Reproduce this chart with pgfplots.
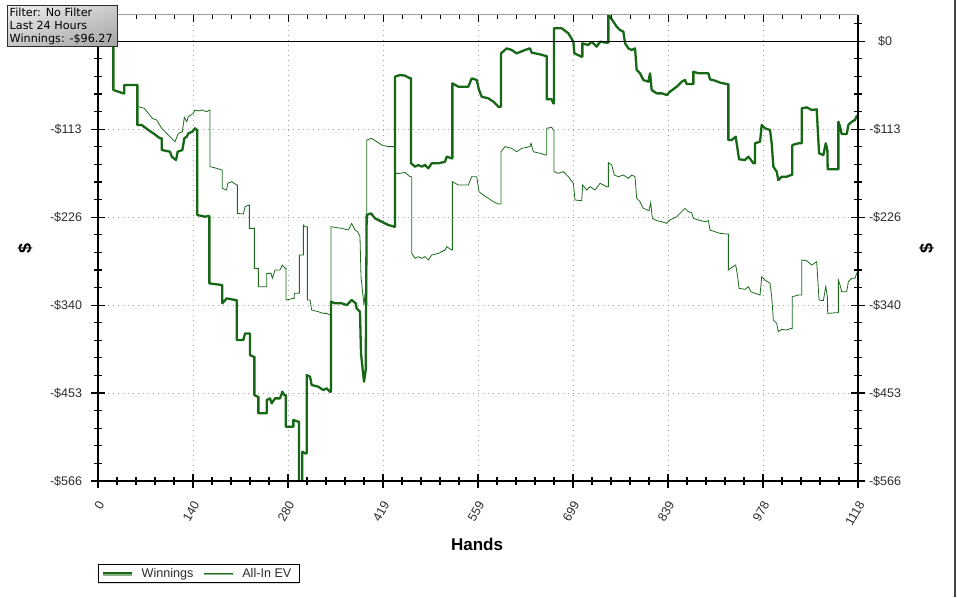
\documentclass[border=0pt]{standalone}
\usepackage{pgfplots}
\pgfplotsset{compat=1.18}
\usetikzlibrary{shadings,shadows}
\usepackage{fontspec}
\setmainfont{Liberation Sans}
\newfontfamily\verdana{DejaVu Sans}
\definecolor{wincol}{RGB}{22,104,22}
\definecolor{evcol}{RGB}{28,108,28}
\definecolor{lblgray}{RGB}{45,45,45}

\pgfplotstableread[row sep=\\]{
x y\\
0 0\\ 22.6 0\\ 22.6 -62.7\\ 37.3 -67.0\\ 38.7 -67.0\\ 38.7 -56.2\\ 57.9 -56.2\\ 57.9 -107.7\\
64.2 -107.7\\ 74.1 -114.2\\ 81.4 -118.5\\ 91.2 -124.9\\ 93.7 -124.9\\ 93.7 -139.9\\ 106.0 -142.1\\
108.4 -148.5\\ 114.8 -152.8\\ 117.2 -142.1\\ 124.1 -139.9\\ 127.0 -124.9\\ 130.5 -122.8\\ 132.9 -118.5\\
138.8 -116.3\\ 142.7 -112.0\\ 145.2 -114.2\\ 146.1 -114.2\\ 146.1 -223.6\\ 157.4 -225.8\\ 162.3 -224.9\\
163.8 -224.9\\ 163.8 -311.6\\ 181.9 -313.7\\ 182.9 -313.7\\ 182.9 -337.3\\ 189.3 -330.9\\ 201.6 -333.0\\
204.0 -333.0\\ 204.0 -384.5\\ 213.8 -384.5\\ 216.3 -376.0\\ 222.2 -376.0\\ 223.6 -376.0\\ 223.6 -403.8\\
228.5 -406.0\\ 230.0 -406.0\\ 230.0 -455.3\\ 234.9 -457.5\\ 235.9 -457.5\\ 235.9 -478.9\\ 245.7 -478.9\\
248.1 -478.9\\ 248.1 -461.8\\ 253.0 -459.6\\ 255.5 -466.0\\ 260.4 -459.6\\ 267.8 -459.6\\ 271.2 -451.0\\
274.1 -455.3\\ 276.1 -455.3\\ 276.1 -496.1\\ 287.4 -496.1\\ 287.4 -487.5\\ 294.7 -489.6\\ 295.7 -489.6\\
295.7 -575\\ 300.6 -575\\ 300.6 -528.3\\ 304.5 -530.4\\ 307.0 -530.4\\ 307.0 -429.6\\ 311.9 -431.7\\
314.3 -442.4\\ 324.1 -444.6\\ 331.5 -448.9\\ 336.4 -446.7\\ 341.3 -451.0\\ 342.8 -451.0\\ 342.8 -335.2\\
348.7 -337.3\\ 358.5 -337.3\\ 365.8 -339.5\\ 373.2 -333.0\\ 379.1 -337.3\\ 380.5 -343.8\\ 385.4 -348.1\\
386.9 -401.7\\ 389.4 -423.1\\ 391.3 -438.2\\ 393.8 -423.1\\ 395.2 -223.6\\ 401.6 -221.5\\ 407.5 -227.9\\
417.3 -232.2\\ 427.1 -236.5\\ 435.9 -238.6\\ 436.9 -238.6\\ 436.9 -45.5\\ 444.3 -43.4\\ 451.6 -44.2\\
459.0 -47.7\\ 460.5 -47.7\\ 460.5 -157.1\\ 466.4 -161.4\\ 471.3 -159.2\\ 476.2 -161.4\\ 481.1 -159.2\\
486.0 -163.5\\ 490.9 -157.1\\ 500.7 -157.1\\ 510.5 -155.0\\ 513.0 -148.5\\ 520.3 -150.7\\ 521.3 -150.7\\
521.3 -54.1\\ 530.1 -58.4\\ 544.8 -58.4\\ 549.7 -47.7\\ 557.1 -49.8\\ 560.5 -62.7\\ 564.4 -71.3\\
574.2 -73.4\\ 581.6 -77.7\\ 588.9 -84.2\\ 592.9 -84.2\\ 592.9 -15.5\\ 601.2 -9.1\\ 608.5 -11.2\\
615.9 -15.5\\ 628.2 -11.2\\ 635.5 -9.1\\ 638.0 -14.6\\ 650.2 -16.8\\ 658.6 -18.9\\ 660.0 -18.9\\
660.0 -74.7\\ 667.4 -74.7\\ 669.8 -79.9\\ 670.8 -79.9\\ 670.8 16.7\\ 682.1 16.7\\ 691.9 10.3\\
699.3 -0.5\\ 700.7 -15.5\\ 711.5 -19.8\\ 712.5 -19.8\\ 712.5 -2.6\\ 721.3 -4.8\\ 726.2 -0.5\\
733.6 -6.9\\ 738.5 -0.5\\ 748.3 -1.8\\ 750.8 -1.8\\ 750.8 33.9\\ 753.2 31.7\\ 758.1 25.3\\ 763.0 18.8\\
767.9 14.5\\ 772.8 12.4\\ 775.3 -2.6\\ 780.2 -9.1\\ 785.1 -11.2\\ 790.0 -9.1\\ 792.4 -36.9\\
797.3 -41.2\\ 802.2 -49.8\\ 809.6 -52.0\\ 812.1 -41.2\\ 814.5 -62.7\\ 821.9 -67.0\\ 829.2 -67.0\\
836.6 -69.1\\ 841.5 -64.8\\ 851.3 -58.4\\ 858.6 -52.0\\ 863.5 -49.8\\ 866.0 -55.0\\ 873.3 -55.0\\
875.8 -55.0\\ 875.8 -39.1\\ 883.1 -41.2\\ 897.9 -41.2\\ 900.3 -49.0\\ 907.7 -50.7\\ 915.0 -53.2\\
924.8 -55.0\\ 927.3 -55.0\\ 927.3 -127.1\\ 932.2 -127.1\\ 938.1 -122.8\\ 941.0 -139.9\\ 943.0 -151.9\\
951.8 -152.8\\ 956.7 -148.5\\ 960.6 -152.8\\ 964.1 -157.1\\ 966.5 -157.1\\ 966.5 -131.3\\ 973.9 -129.2\\
976.3 -107.7\\ 981.2 -112.0\\ 988.6 -114.2\\ 991.0 -131.3\\ 993.5 -161.4\\ 998.4 -167.8\\ 1000.8 -178.6\\
1005.7 -174.3\\ 1013.1 -174.3\\ 1019.5 -172.1\\ 1021.4 -172.1\\ 1021.4 -133.5\\ 1030.3 -131.3\\
1035.2 -131.3\\ 1035.2 -86.3\\ 1042.5 -85.0\\ 1049.9 -88.4\\ 1057.2 -87.6\\ 1060.7 -144.2\\ 1067.0 -146.4\\
1070.5 -131.3\\ 1072.9 -139.9\\ 1073.4 -164.8\\ 1086.7 -164.8\\ 1089.1 -164.8\\ 1089.1 -103.5\\
1091.6 -109.9\\ 1094.0 -119.3\\ 1101.4 -119.3\\ 1103.8 -107.7\\ 1108.7 -103.5\\ 1113.6 -101.3\\
1116.1 -96.2\\ 1118 -96.27\\
}\winnings

\pgfplotstableread[row sep=\\]{
x y\\
0 0\\ 22.6 0\\ 22.6 -62.7\\ 37.3 -67.0\\ 38.7 -67.0\\ 38.7 -56.2\\ 57.9 -56.2\\ 57.9 -84.2\\
59.3 -84.2\\ 68.2 -86.3\\ 74.1 -92.7\\ 80.0 -99.2\\ 86.3 -101.3\\ 93.7 -112.0\\ 101.0 -118.5\\
108.4 -124.9\\ 113.3 -129.2\\ 118.2 -118.5\\ 124.1 -116.3\\ 127.0 -97.9\\ 130.5 -103.5\\ 132.9 -97.0\\
140.3 -92.7\\ 142.7 -88.4\\ 147.6 -89.7\\ 152.5 -88.4\\ 159.9 -90.6\\ 164.8 -88.4\\ 164.8 -161.4\\
174.6 -163.5\\ 181.9 -165.7\\ 182.9 -165.7\\ 182.9 -189.3\\ 189.3 -191.4\\ 190.8 -182.8\\ 196.7 -180.7\\
204.0 -185.0\\ 205.0 -185.0\\ 205.0 -221.5\\ 213.8 -222.3\\ 216.3 -212.9\\ 222.2 -210.7\\ 222.7 -210.7\\
222.7 -240.8\\ 230.0 -240.8\\ 230.0 -292.3\\ 235.9 -292.3\\ 235.9 -315.9\\ 248.1 -315.9\\ 248.1 -298.7\\
254.5 -298.7\\ 256.5 -305.1\\ 260.4 -294.4\\ 267.8 -294.4\\ 271.2 -288.0\\ 275.1 -292.3\\ 276.6 -292.3\\
276.6 -333.0\\ 287.4 -330.9\\ 288.8 -330.9\\ 288.8 -324.4\\ 294.7 -324.4\\ 296.2 -324.4\\ 296.2 -275.1\\
299.6 -275.1\\ 302.1 -275.1\\ 302.1 -236.5\\ 304.5 -238.6\\ 308.0 -238.6\\ 308.0 -333.0\\ 311.9 -333.0\\
314.3 -345.9\\ 324.1 -348.1\\ 331.5 -350.2\\ 336.4 -350.2\\ 341.3 -352.3\\ 342.8 -352.3\\ 342.8 -238.6\\
348.7 -239.5\\ 358.5 -240.8\\ 368.3 -242.9\\ 373.2 -234.3\\ 378.1 -242.9\\ 382.0 -245.1\\ 385.4 -251.5\\
386.9 -303.0\\ 389.4 -324.4\\ 391.3 -339.5\\ 392.8 -324.4\\ 395.2 -324.4\\ 395.2 -127.1\\ 402.6 -124.9\\
410.0 -129.2\\ 417.3 -133.5\\ 427.1 -135.6\\ 434.5 -135.6\\ 436.9 -135.6\\ 436.9 -170.0\\ 444.3 -170.0\\
451.6 -168.7\\ 459.0 -174.3\\ 461.5 -174.3\\ 461.5 -273.0\\ 466.4 -279.4\\ 471.3 -277.2\\ 476.2 -279.4\\
481.1 -277.2\\ 486.0 -281.5\\ 490.9 -275.1\\ 500.7 -273.0\\ 510.5 -268.7\\ 513.0 -264.4\\ 520.3 -268.7\\
521.3 -268.7\\ 521.3 -180.7\\ 530.1 -185.0\\ 544.8 -185.0\\ 549.7 -174.3\\ 557.1 -174.3\\ 560.5 -193.6\\
566.9 -197.9\\ 574.2 -202.1\\ 581.6 -206.4\\ 588.9 -209.4\\ 592.9 -209.4\\ 592.9 -142.1\\ 598.7 -135.6\\
608.5 -137.8\\ 615.9 -142.1\\ 623.3 -137.8\\ 635.5 -135.6\\ 637.0 -131.3\\ 640.4 -142.1\\ 650.2 -144.2\\
658.6 -146.4\\ 660.0 -146.4\\ 660.0 -112.0\\ 667.4 -110.7\\ 669.8 -114.2\\ 670.8 -114.2\\ 670.8 -167.8\\
677.2 -170.0\\ 684.6 -167.8\\ 691.9 -174.3\\ 699.3 -182.8\\ 701.7 -204.3\\ 711.5 -205.2\\ 713.0 -185.0\\
718.9 -191.4\\ 723.8 -187.1\\ 731.1 -191.4\\ 738.5 -182.8\\ 748.3 -187.1\\ 750.8 -187.1\\ 750.8 -156.2\\
755.7 -159.2\\ 759.6 -172.1\\ 765.5 -174.3\\ 772.8 -172.1\\ 780.2 -176.4\\ 785.1 -172.1\\ 790.0 -174.3\\
792.4 -202.1\\ 797.3 -206.4\\ 802.2 -215.0\\ 810.6 -218.0\\ 813.0 -207.7\\ 815.5 -227.9\\ 821.9 -230.9\\
829.2 -232.2\\ 836.6 -234.3\\ 841.5 -230.0\\ 851.3 -225.8\\ 858.6 -219.3\\ 863.5 -215.0\\ 868.4 -219.3\\
873.3 -220.6\\ 875.8 -227.9\\ 883.1 -230.0\\ 893.0 -232.2\\ 897.9 -230.9\\ 900.3 -242.9\\ 907.7 -245.1\\
915.0 -247.2\\ 924.8 -248.1\\ 927.3 -248.1\\ 927.3 -294.4\\ 932.2 -291.0\\ 938.1 -288.0\\ 941.0 -303.0\\
943.0 -318.0\\ 951.8 -319.3\\ 956.7 -315.9\\ 960.6 -322.3\\ 966.5 -324.4\\ 973.9 -326.6\\ 976.3 -303.0\\
981.2 -307.3\\ 988.6 -311.6\\ 991.0 -328.7\\ 993.5 -358.8\\ 998.4 -363.1\\ 1000.8 -373.8\\ 1005.7 -370.8\\
1013.1 -371.7\\ 1019.5 -369.5\\ 1021.4 -369.5\\ 1021.4 -328.7\\ 1030.3 -326.6\\ 1035.2 -326.6\\
1035.2 -281.5\\ 1042.5 -282.4\\ 1049.9 -288.0\\ 1057.2 -283.7\\ 1060.7 -333.0\\ 1067.0 -333.9\\
1070.5 -315.9\\ 1072.9 -328.7\\ 1073.4 -350.2\\ 1086.7 -349.3\\ 1089.1 -349.3\\ 1089.1 -307.3\\
1091.6 -313.7\\ 1094.0 -322.3\\ 1101.4 -322.3\\ 1103.8 -309.4\\ 1108.7 -305.1\\ 1113.6 -305.1\\
1116.1 -298.7\\ 1118 -296.0\\
}\alliniev

\begin{document}
\begin{tikzpicture}[x=1pt,y=1pt]
\useasboundingbox (0,0) rectangle (957,-597);
\fill[white] (0,0) rectangle (957,-597);
\pgfplotsset{
  base/.style={
    at={(98pt,-481pt)}, anchor=south west,
    scale only axis, width=760pt, height=466pt,
    xmin=0, xmax=1118, ymin=-566, ymax=33.86,
    axis line style={draw=none},
    tick style={black, line width=1.2pt},
    major tick length=14pt, minor tick length=8pt,
    tick align=center,
    xtick={0,139.75,279.5,419.25,559,698.75,838.5,978.25,1118},
    ytick={-566,-452.8,-339.6,-226.4,-113.2,0},
    minor xtick={27.95,55.9,...,1100},
    minor ytick={-543.36,-520.72,...,23},
    ticklabel style={font=\fontsize{12.5}{14}\selectfont, text=lblgray},
  }
}
\begin{axis}[base,
  clip mode=individual,
  xtick pos=left, ytick pos=left,
  xticklabels={0,140,280,419,559,699,839,978,1118},
  yticklabels={-\$566,-\$453,-\$340,-\$226,-\$113,{}},
  xticklabel style={xshift=5pt, yshift=-11pt, rotate=60, anchor=east},
  yticklabel style={anchor=center, xshift=-25pt},
  grid=major,
  major grid style={gray!75, line width=0.7pt, dash pattern=on 0.8pt off 4.2pt},
  legend columns=2,
  legend style={at={(0,0)}, anchor=north west, yshift=-83pt,
    draw=black, line width=0.8pt, font=\fontsize{12.6}{14}\selectfont,
    text=lblgray, inner xsep=3pt, inner ysep=1.5pt,
    drop shadow={shadow xshift=0pt, shadow yshift=-1.6pt, fill=gray!55},
    nodes={inner xsep=5pt},
    /tikz/every odd column/.append style={column sep=4pt},
    /tikz/every even column/.append style={column sep=5pt}},
  legend image code/.code={\draw[#1] (0pt,0pt) -- (29pt,0pt);},
]
\addplot[wincol, line width=2.3pt, line join=round] table {\winnings};
\addlegendentry{Winnings}
\addplot[evcol, line width=0.8pt] table {\alliniev};
\addlegendentry{All-In EV}
\draw[black, line width=1pt] (axis cs:0,0) -- (axis cs:1118,0);
\draw[black, line width=1.3pt] (rel axis cs:0,1) -- (rel axis cs:0,0) -- (rel axis cs:1,0) -- (rel axis cs:1,1);
\draw[gray!75, line width=1pt] (rel axis cs:0,1) -- (rel axis cs:1,1);
\end{axis}
\begin{axis}[base,
  xtick=\empty, minor xtick={},
  ytick pos=right, yticklabel pos=right,
  yticklabels={-\$566,-\$453,-\$340,-\$226,-\$113,\$0},
  yticklabel style={anchor=center, xshift=20pt},
]
\end{axis}
\begin{axis}[base,
  ytick=\empty, minor ytick={},
  xtick pos=right, tick align=inside,
  tick style={black, line width=0.9pt},
  major tick length=7pt, minor tick length=4pt,
  xticklabels={},
]
\end{axis}
% titles
\node[font=\bfseries\fontsize{17}{20}\selectfont] at (477,-544) {Hands};
\node[font=\bfseries\fontsize{18}{20}\selectfont, rotate=90] at (25,-248) {\$};
\node[font=\bfseries\fontsize{18}{20}\selectfont, rotate=90] at (926.5,-248) {\$};
% info box
\shade[upper left=gray!12, upper right=gray!40, lower left=gray!45, lower right=gray!72] (7,-5) rectangle (117,-46.5);
\draw[gray!35!black, line width=0.8pt] (7,-5) rectangle (117,-46.5);
\node[anchor=north west, align=left, font=\verdana\fontsize{11.2}{12.9}\selectfont, inner sep=0pt] at (9.5,-7.5)
  {Filter: No Filter\\Last 24 Hours\\Winnings: -\$96.27};
% window edge
\draw[gray!55!black, line width=1.5pt] (955,0) -- (955,-597);
\end{tikzpicture}
\end{document}
